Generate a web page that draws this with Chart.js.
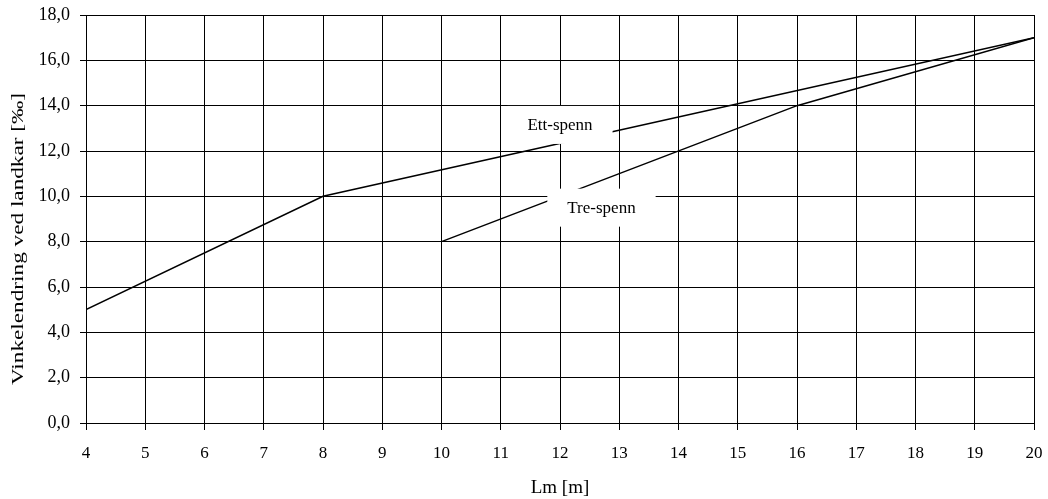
<!DOCTYPE html>
<html>
<head>
<meta charset="utf-8">
<script src="https://cdn.jsdelivr.net/npm/chart.js@4"></script>
<style>
  html, body { margin: 0; padding: 0; background: #fff; }
  #wrap { width: 1048px; height: 499px; }
</style>
</head>
<body>
<div id="wrap"><canvas id="chart" width="1048" height="499"></canvas></div>
<script>
const ettX = [4, 8, 20];
const ettY = [5, 10, 17];
const treX = [10, 16, 20];
const treY = [8, 14, 17];

// series labels, placed in data units
const labelNames = ["Ett-spenn", "Tre-spenn"];
const labelX = [12.0, 12.7];
const labelY = [13.15, 9.5];

const yTitle = "Vinkelendring ved landkar [‰]";
const serif = "'Liberation Serif', 'Times New Roman', serif";

function toPoints(xs, ys) {
  return xs.map((x, i) => ({ x: x, y: ys[i] }));
}

// white label boxes sit on top of grid and lines
const labelBoxes = {
  id: "labelBoxes",
  afterDatasetsDraw(chart) {
    const ctx = chart.ctx;
    const xs = chart.scales.x;
    const ys = chart.scales.y;
    ctx.save();
    ctx.font = "17px " + serif;
    ctx.textAlign = "center";
    ctx.textBaseline = "middle";
    labelNames.forEach((name, i) => {
      const cx = xs.getPixelForValue(labelX[i]);
      const cy = ys.getPixelForValue(labelY[i]);
      const w = ctx.measureText(name).width + 40;
      const h = 38;
      ctx.fillStyle = "#fff";
      ctx.fillRect(cx - w / 2, cy - h / 2, w, h);
      ctx.fillStyle = "#000";
      ctx.fillText(name, cx, cy + 1);
    });
    ctx.restore();
  },
};

// y title is stretched along its length in the original
const yTitleDraw = {
  id: "yTitleDraw",
  afterDraw(chart) {
    const ctx = chart.ctx;
    ctx.save();
    ctx.translate(19, 239);
    ctx.rotate(-Math.PI / 2);
    ctx.font = "17px " + serif;
    const w = ctx.measureText(yTitle).width;
    ctx.scale(292 / w, 1);
    ctx.textAlign = "center";
    ctx.textBaseline = "middle";
    ctx.fillStyle = "#000";
    ctx.fillText(yTitle, 0, 0);
    ctx.restore();
  },
};

new Chart(document.getElementById("chart").getContext("2d"), {
  type: "line",
  data: {
    datasets: [
      {
        label: labelNames[0],
        data: toPoints(ettX, ettY),
        borderColor: "#000",
        borderWidth: 1.5,
        pointRadius: 0,
        tension: 0,
      },
      {
        label: labelNames[1],
        data: toPoints(treX, treY),
        borderColor: "#000",
        borderWidth: 1.5,
        pointRadius: 0,
        tension: 0,
      },
    ],
  },
  options: {
    responsive: false,
    animation: false,
    layout: { padding: { left: 0, right: 14, top: 15, bottom: 0 } },
    plugins: { legend: { display: false }, tooltip: { enabled: false } },
    scales: {
      x: {
        type: "linear",
        min: 4,
        max: 20,
        afterFit: (s) => {
          s.height = 76;
          s.paddingLeft = 0;
          s.paddingRight = 0;
        },
        ticks: {
          stepSize: 1,
          color: "#000",
          font: { family: serif, size: 17 },
          padding: 13,
        },
        grid: { color: "#000", lineWidth: 1, tickLength: 7 },
        border: { color: "#000", width: 1 },
        title: {
          display: true,
          text: "Lm [m]",
          color: "#000",
          font: { family: serif, size: 19 },
          padding: { top: 4, bottom: 0 },
        },
      },
      y: {
        min: 0,
        max: 18,
        afterFit: (s) => {
          s.width = 86;
          s.paddingTop = 0;
          s.paddingBottom = 0;
        },
        ticks: {
          stepSize: 2,
          color: "#000",
          font: { family: serif, size: 18 },
          padding: 10,
          callback: (v) => v.toFixed(1).replace(".", ","),
        },
        grid: { color: "#000", lineWidth: 1, tickLength: 6 },
        border: { color: "#000", width: 1 },
        title: { display: false },
      },
    },
  },
  plugins: [labelBoxes, yTitleDraw],
});
</script>
</body>
</html>
